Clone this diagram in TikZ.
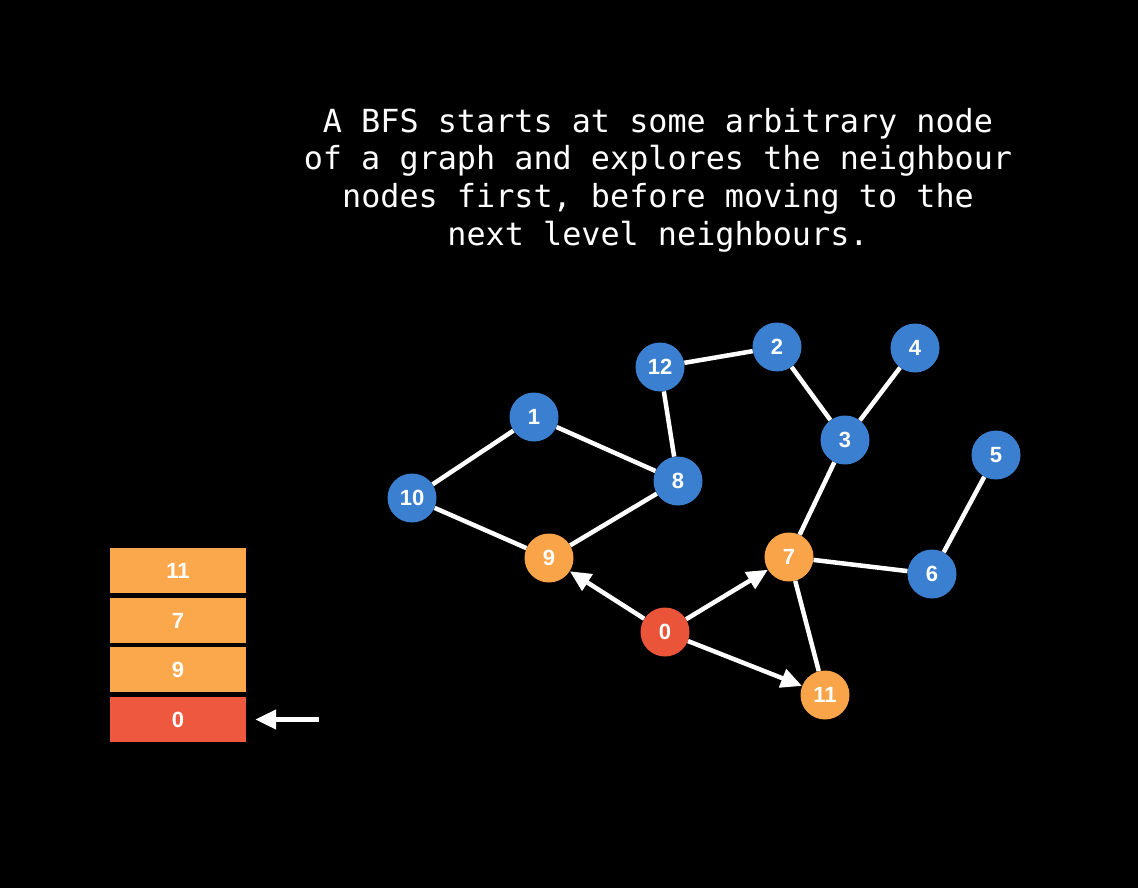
\documentclass[tikz,border=0pt]{standalone}
\usepackage{fontspec}
\setmainfont{Liberation Sans}
\newfontfamily\monofont{DejaVu Sans Mono}
\usetikzlibrary{arrows.meta}
\definecolor{nblue}{RGB}{58,127,208}
\definecolor{norange}{RGB}{249,164,72}
\definecolor{nred}{RGB}{234,84,56}
\definecolor{qorange}{RGB}{251,168,77}
\definecolor{qred}{RGB}{238,88,62}
\tikzset{
  gnode/.style={circle, minimum size=49pt, inner sep=0pt, text=white,
    font=\bfseries\fontsize{22}{22}\selectfont},
  bluenode/.style={gnode, fill=nblue},
  orangenode/.style={gnode, fill=norange},
  rednode/.style={gnode, fill=nred},
  qcell/.style={rectangle, minimum width=136pt, minimum height=45pt, inner sep=0pt,
    text=white, font=\bfseries\fontsize{22}{22}\selectfont},
  edge/.style={draw=white, line width=4.5pt},
  arr/.style={draw=white, line width=4.5pt, -{Triangle[length=21pt,width=19pt]}}
}
\begin{document}
\begin{tikzpicture}[x=1pt,y=-1pt]
\fill[black] (0,0) rectangle (1138,888);
\useasboundingbox (0,0) rectangle (1138,888);

\node[text=white, align=center, inner sep=0pt,
  font=\monofont\fontsize{31.8}{37.6}\selectfont] (title) at (658,180)
  {A BFS starts at some arbitrary node\\of a graph and explores the neighbour\\nodes first, before moving to the\\next level neighbours.};

% graph nodes
\node[rednode] (n0) at (665,632) {0};
\node[orangenode] (n9) at (549,558) {9};
\node[orangenode] (n7) at (789,557) {7};
\node[orangenode] (n11) at (825,695) {11};
\node[bluenode] (n10) at (412,498) {10};
\node[bluenode] (n1) at (534,417) {1};
\node[bluenode] (n8) at (678,481) {8};
\node[bluenode] (n12) at (660,367) {12};
\node[bluenode] (n2) at (777,347) {2};
\node[bluenode] (n3) at (845,440) {3};
\node[bluenode] (n4) at (915,348) {4};
\node[bluenode] (n5) at (996,455) {5};
\node[bluenode] (n6) at (932,574) {6};

% edges
\draw[edge] (n10) -- (n1);
\draw[edge] (n10) -- (n9);
\draw[edge] (n1) -- (n8);
\draw[edge] (n9) -- (n8);
\draw[edge] (n12) -- (n8);
\draw[edge] (n12) -- (n2);
\draw[edge] (n2) -- (n3);
\draw[edge] (n3) -- (n4);
\draw[edge] (n3) -- (n7);
\draw[edge] (n7) -- (n6);
\draw[edge] (n6) -- (n5);
\draw[edge] (n7) -- (n11);

% arrows from 0
\draw[arr] (n0) -- (n9);
\draw[arr] (n0) -- (n7);
\draw[arr] (n0) -- (n11);

% queue
\node[qcell, fill=qorange] (q11) at (178,570.5) {11};
\node[qcell, fill=qorange] (q7) at (178,620.5) {7};
\node[qcell, fill=qorange] (q9) at (178,669.5) {9};
\node[qcell, fill=qred] (q0) at (178,719.5) {0};
\coordinate (qa) at (319,719.5);
\draw[arr, shorten >=9pt] (qa) -- (q0.east);
\end{tikzpicture}
\end{document}
